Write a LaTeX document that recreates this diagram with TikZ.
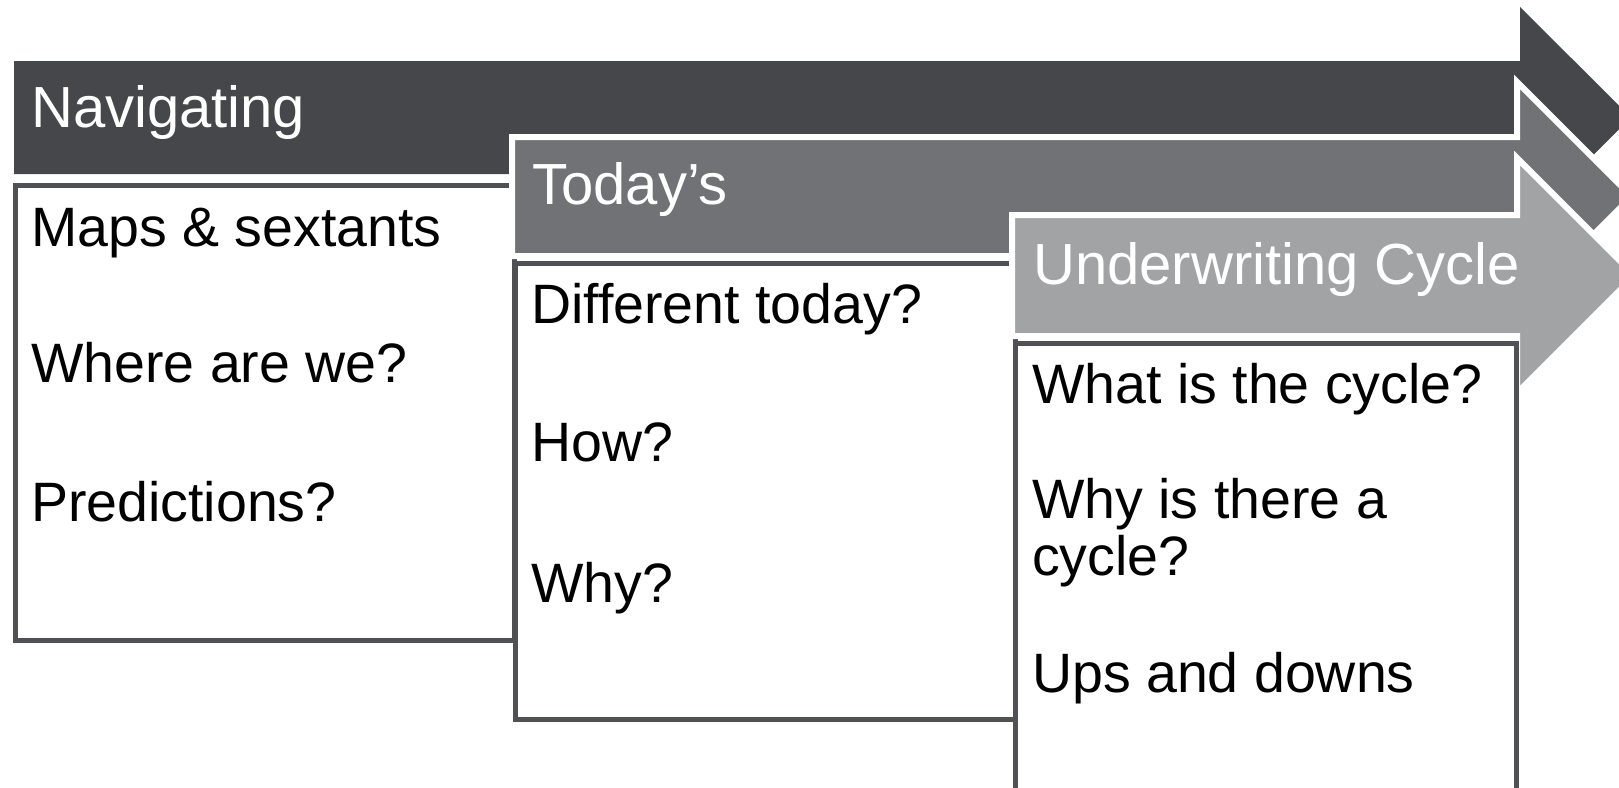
\documentclass[tikz,border=0pt]{standalone}
\usepackage{fontspec}
\setmainfont{Liberation Sans}
\usepackage{xcolor}
\usepackage{tikz}
\definecolor{stepdark}{RGB}{70, 71, 75}
\definecolor{stepmid}{RGB}{113, 114, 118}
\definecolor{steplight}{RGB}{162, 163, 165}
\definecolor{panelline}{RGB}{80, 81, 85}

\begin{document}
\begin{tikzpicture}[
        x=1pt, y=-1pt,
        band/.style={draw=white, line width=6pt, line join=miter},
        header/.style={anchor=base west, inner sep=0pt, text=white, font=\fontsize{58}{62}\selectfont},
        panel/.style={rectangle, draw=panelline, fill=white, line width=5pt, inner sep=0pt, anchor=north west},
        item/.style={anchor=base west, inner sep=0pt, text=black, font=\fontsize{55.5}{58}\selectfont}
    ]

        \clip (0,0) rectangle (1619,787);
        \useasboundingbox (0,0) rectangle (1619,787);

        % first block arrow and its panel
        \fill[stepdark] (14,61) -- (1520,61) -- (1520,7) -- (1631,117.5) -- (1520,228) -- (1520,174) -- (14,174) -- cycle;
        \node[header] (navigating) at (31,127) {Navigating};
        \node[panel, minimum width=499.5pt, minimum height=455pt] (boxnav) at (12.5,182.5) {};
        \node[item] (maps) at (31,246) {Maps \& sextants};
        \node[item] (where) at (31,382) {Where are we?};
        \node[item] (predict) at (31,521) {Predictions?};

        % second block arrow and its panel
        \path[band, fill=stepmid] (512,137) -- (1517,137) -- (1517,82) -- (1631.5,196.5) -- (1517,311) -- (1517,256) -- (512,256) -- cycle;
        \node[header] (today) at (532,204) {Today’s};
        \node[panel, minimum width=500.5pt, minimum height=456pt] (boxtoday) at (512.5,260.5) {};
        \node[item] (different) at (531,323) {Different today?};
        \node[item] (how) at (531,461) {How?};
        \node[item] (why) at (531,602) {Why?};

        % third block arrow and its panel
        \path[band, fill=steplight] (1012,215) -- (1517,215) -- (1517,158) -- (1634.5,275.5) -- (1517,393) -- (1517,336) -- (1012,336) -- cycle;
        \node[header] (cycle) at (1033,284) {Underwriting Cycle};
        \node[panel, minimum width=500.5pt, minimum height=448.5pt] (boxcycle) at (1013,340.5) {};
        \node[item] (whatis) at (1032,403) {What is the cycle?};
        \node[item] (whycycle) at (1032,518) {Why is there a};
        \node[item] (whycycle2) at (1032,575) {cycle?};
        \node[item] (ups) at (1032,692) {Ups and downs};

    \end{tikzpicture}
\end{document}
